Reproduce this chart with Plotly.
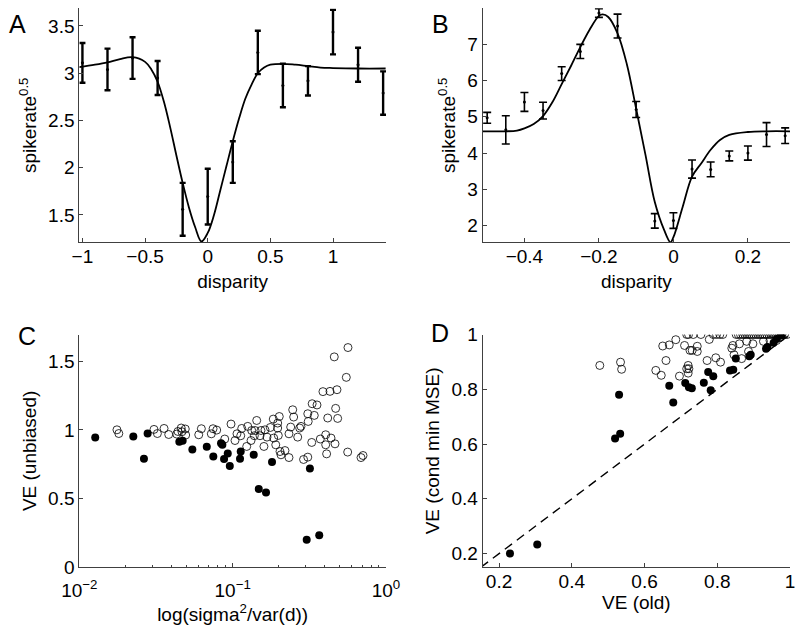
import plotly.graph_objects as go

# ---------------- Panel A data ----------------
a_x = [-1.0, -0.8, -0.6, -0.4, -0.2, 0.0, 0.2, 0.4, 0.6, 0.8, 1.0, 1.2, 1.4]
a_y = [3.11, 3.04, 3.16, 2.95, 1.56, 1.695, 2.06, 3.22, 2.87, 2.92, 3.435, 3.09, 2.79]
a_err = [0.21, 0.22, 0.22, 0.18, 0.28, 0.295, 0.22, 0.23, 0.23, 0.155, 0.235, 0.18, 0.23]
a_fit_x = [-1.025, -0.9, -0.8, -0.7, -0.6, -0.5, -0.45, -0.4, -0.35, -0.3, -0.25, -0.2,
           -0.15, -0.1, -0.05, 0.0, 0.05, 0.1, 0.15, 0.2, 0.25, 0.3, 0.35, 0.4, 0.45,
           0.5, 0.6, 0.7, 0.8, 0.9, 1.0, 1.2, 1.42]
a_fit_y = [3.065, 3.09, 3.115, 3.15, 3.17, 3.12, 3.04, 2.91, 2.70, 2.43, 2.13, 1.84,
           1.58, 1.37, 1.22, 1.31, 1.50, 1.76, 2.02, 2.28, 2.52, 2.73, 2.88, 3.0, 3.06,
           3.09, 3.10, 3.09, 3.075, 3.06, 3.055, 3.05, 3.05]

# ---------------- Panel B data ----------------
b_x = [-0.5, -0.45, -0.4, -0.35, -0.3, -0.25, -0.2, -0.15, -0.1, -0.05, 0.0, 0.05,
       0.1, 0.15, 0.2, 0.25, 0.3]
b_y = [4.97, 4.64, 5.41, 5.17, 6.19, 6.80, 7.86, 7.50, 5.20, 2.13, 2.14, 3.56,
       3.55, 3.92, 4.00, 4.51, 4.48]
b_err = [0.15, 0.39, 0.26, 0.23, 0.19, 0.195, 0.12, 0.33, 0.22, 0.20, 0.215, 0.25,
         0.205, 0.135, 0.195, 0.33, 0.215]
b_fit_x = [-0.512, -0.45, -0.42, -0.4, -0.375, -0.35, -0.325, -0.3, -0.275, -0.25,
           -0.225, -0.2, -0.19, -0.175, -0.15, -0.125, -0.1, -0.075, -0.05, -0.025,
           -0.008, 0.0, 0.025, 0.05, 0.075, 0.1, 0.125, 0.15, 0.2, 0.25, 0.313]
b_fit_y = [4.6, 4.6, 4.62, 4.68, 4.80, 5.02, 5.40, 5.90, 6.40, 6.92,
           7.40, 7.78, 7.82, 7.75, 7.30, 6.45, 5.22, 3.95, 2.65, 1.88,
           1.54, 1.68, 2.52, 3.35, 3.72, 4.09, 4.36, 4.50, 4.58, 4.60, 4.60]

# ---------------- Panel C data ----------------
c_open_x = [0.0176, 0.0181, 0.0307, 0.0323, 0.0357, 0.0383, 0.0432, 0.0440, 0.0462, 0.0467,
            0.0491, 0.0494, 0.0601, 0.0625, 0.0726, 0.0745, 0.0787, 0.0888, 0.0976, 0.1036,
            0.1067, 0.1129, 0.1146, 0.1235, 0.1254, 0.1318, 0.1331, 0.1385, 0.1400, 0.1435,
            0.1508, 0.1530, 0.1600, 0.1625, 0.1675, 0.1760, 0.1840, 0.1853, 0.1910, 0.1967,
            0.1967, 0.1985, 0.2014, 0.2036, 0.2066, 0.2194, 0.2330, 0.2330, 0.2390, 0.2464,
            0.2500, 0.2656, 0.2736, 0.2790, 0.2900, 0.3090, 0.3110, 0.3090, 0.3278, 0.3300,
            0.3406, 0.3548, 0.3730, 0.3880, 0.4043, 0.4043, 0.4100, 0.4169, 0.4314, 0.4380,
            0.4650, 0.4695, 0.4790, 0.4840, 0.4600, 0.5510, 0.5650, 0.5625, 0.6870, 0.7080]
c_open_y = [1.001, 0.974, 1.004, 0.974, 1.011, 0.967, 0.970, 0.989, 1.014, 0.987,
            1.007, 0.963, 0.965, 1.009, 0.972, 1.009, 0.999, 0.934, 1.043, 0.923,
            0.972, 0.958, 1.011, 0.880, 1.026, 0.923, 0.996, 0.958, 0.996, 1.069,
            0.958, 0.996, 0.880, 1.001, 0.948, 1.018, 1.079, 0.941, 0.892, 1.050,
            1.014, 0.960, 1.098, 0.843, 0.819, 0.850, 0.799, 0.972, 1.021, 1.147,
            1.094, 0.948, 1.014, 1.026, 0.785, 0.802, 1.062, 1.118, 0.909, 1.191,
            1.106, 1.182, 0.934, 1.279, 0.965, 0.892, 0.826, 1.087, 1.281, 0.941,
            0.899, 1.157, 1.293, 1.084, 1.532, 1.383, 1.600, 0.839, 0.799, 0.814]
c_fill_x = [0.0127, 0.0225, 0.0264, 0.0279, 0.0449, 0.0472, 0.0546, 0.0678, 0.0748, 0.0840,
            0.0857, 0.0879, 0.0929, 0.0958, 0.1117, 0.1129, 0.1372, 0.1480, 0.1650, 0.1806,
            0.3040, 0.3670, 0.3190]
c_fill_y = [0.945, 0.953, 0.790, 0.975, 0.914, 0.921, 0.858, 0.877, 0.807, 0.904,
            0.892, 0.788, 0.829, 0.737, 0.790, 0.843, 0.819, 0.571, 0.544, 0.766,
            0.201, 0.233, 0.719]

# ---------------- Panel D data ----------------
d_open_x = [0.477, 0.534, 0.537, 0.631, 0.646, 0.659, 0.650, 0.668, 0.686, 0.710,
            0.721, 0.696, 0.716, 0.720, 0.725, 0.716, 0.734, 0.755, 0.789, 0.798,
            0.807, 0.815, 0.852, 0.858, 0.864, 0.870, 0.876, 0.882, 0.888, 0.894,
            0.900, 0.906, 0.912, 0.918, 0.924, 0.930, 0.936, 0.942, 0.948, 0.954,
            0.960, 0.966, 0.972, 0.978, 0.985, 0.992, 0.731, 0.745, 0.745, 0.778,
            0.772, 0.796, 0.809, 0.720, 0.722, 0.840, 0.846, 0.843, 0.861, 0.881,
            0.886, 0.867, 0.898, 0.927, 0.945, 0.963, 0.973]
d_open_y = [0.887, 0.899, 0.873, 0.869, 0.851, 0.905, 0.958, 0.962, 0.981, 0.960,
            1.000, 0.848, 0.875, 0.859, 0.942, 1.000, 1.000, 1.000, 1.000, 1.000,
            1.000, 1.000, 1.000, 1.000, 1.000, 1.000, 1.000, 1.000, 1.000, 1.000,
            1.000, 1.000, 1.000, 1.000, 1.000, 1.000, 1.000, 1.000, 1.000, 1.000,
            1.000, 1.000, 1.000, 1.000, 1.000, 1.000, 0.942, 0.957, 0.938, 0.982,
            0.905, 0.915, 0.899, 0.887, 0.875, 0.950, 0.926, 0.960, 0.966, 0.975,
            0.938, 0.912, 0.966, 0.975, 0.978, 0.978, 0.990]
d_fill_x = [0.230, 0.305, 0.519, 0.533, 0.530, 0.668, 0.679, 0.712, 0.722, 0.730,
            0.763, 0.775, 0.789, 0.782, 0.835, 0.844, 0.851, 0.888, 0.892, 0.934,
            0.938, 0.963, 0.977, 0.955]
d_fill_y = [0.200, 0.233, 0.620, 0.638, 0.780, 0.813, 0.752, 0.823, 0.807, 0.804,
            0.824, 0.863, 0.848, 0.796, 0.869, 0.871, 0.912, 0.921, 0.926, 0.948,
            0.954, 0.984, 0.996, 0.970]
d_ref = [0.15, 1.0]

# ---------------- tick labels ----------------
a_xticks = [-1, -0.5, 0, 0.5, 1]
a_xtext = ["\u22121", "\u22120.5", "0", "0.5", "1"]
a_yticks = [1.5, 2, 2.5, 3, 3.5]
a_ytext = ["1.5", "2", "2.5", "3", "3.5"]
b_xticks = [-0.4, -0.2, 0, 0.2]
b_xtext = ["\u22120.4", "\u22120.2", "0", "0.2"]
b_yticks = [2, 3, 4, 5, 6, 7]
b_ytext = ["2", "3", "4", "5", "6", "7"]
c_xticks = [0.01, 0.1, 1]
c_xtext = ["10<sup>\u22122</sup>", "10<sup>\u22121</sup>", "10<sup>0</sup>"]
c_minor = [0.02, 0.03, 0.04, 0.05, 0.06, 0.07, 0.08, 0.09,
           0.2, 0.3, 0.4, 0.5, 0.6, 0.7, 0.8, 0.9]
c_yticks = [0, 0.5, 1, 1.5]
c_ytext = ["0", "0.5", "1", "1.5"]
d_ticks = [0.2, 0.4, 0.6, 0.8, 1]
d_text = ["0.2", "0.4", "0.6", "0.8", "1"]

W, H = 800, 635
FONT = "Liberation Sans, Arial, sans-serif"
AX = "#404040"


def px_dom(x0, x1):
    return [x0 / W, x1 / W]


def py_dom(y_top, y_bot):
    return [1 - y_bot / H, 1 - y_top / H]


def axis(dom, rng, tv, tt, title, standoff, **kw):
    d = dict(domain=dom, range=rng, tickmode="array", tickvals=tv, ticktext=tt,
             showline=True, linecolor=AX, linewidth=1, ticks="inside", ticklen=4,
             tickcolor=AX, tickwidth=1, showgrid=False, zeroline=False, mirror=False,
             tickfont=dict(size=19, color="black", family=FONT),
             title=dict(text=title, font=dict(size=19, color="black", family=FONT),
                        standoff=standoff),
             automargin=False, fixedrange=True)
    d.update(kw)
    return d


fig = go.Figure()

# Panel A
fig.add_trace(go.Scatter(x=a_fit_x, y=a_fit_y, mode="lines", line=dict(color="black", width=1.8, shape="spline"),
                         xaxis="x", yaxis="y", showlegend=False, hoverinfo="skip"))
fig.add_trace(go.Scatter(x=a_x, y=a_y, mode="markers", marker=dict(color="black", size=3),
                         error_y=dict(type="data", array=a_err, color="black", thickness=2.4, width=3),
                         xaxis="x", yaxis="y", showlegend=False))

# Panel B
fig.add_trace(go.Scatter(x=b_fit_x, y=b_fit_y, mode="lines", line=dict(color="black", width=1.8, shape="spline"),
                         xaxis="x2", yaxis="y2", showlegend=False, hoverinfo="skip"))
fig.add_trace(go.Scatter(x=b_x, y=b_y, mode="markers", marker=dict(color="black", size=3),
                         error_y=dict(type="data", array=b_err, color="black", thickness=1.6, width=4),
                         xaxis="x2", yaxis="y2", showlegend=False))

# Panel C
fig.add_trace(go.Scatter(x=c_open_x, y=c_open_y, mode="markers",
                         marker=dict(symbol="circle-open", color="black", size=8, line=dict(width=0.8)),
                         xaxis="x3", yaxis="y3", showlegend=False))
fig.add_trace(go.Scatter(x=c_fill_x, y=c_fill_y, mode="markers",
                         marker=dict(symbol="circle", color="black", size=8),
                         xaxis="x3", yaxis="y3", showlegend=False))

# Panel D
fig.add_trace(go.Scatter(x=d_ref, y=d_ref, mode="lines", line=dict(color="black", width=1.4, dash="9px,6px"),
                         xaxis="x4", yaxis="y4", showlegend=False, hoverinfo="skip"))
fig.add_trace(go.Scatter(x=d_open_x, y=d_open_y, mode="markers",
                         marker=dict(symbol="circle-open", color="black", size=8, line=dict(width=0.8)),
                         xaxis="x4", yaxis="y4", showlegend=False))
fig.add_trace(go.Scatter(x=d_fill_x, y=d_fill_y, mode="markers",
                         marker=dict(symbol="circle", color="black", size=8),
                         xaxis="x4", yaxis="y4", showlegend=False))

top = py_dom(8.3, 242.3)
bot = py_dom(334.5, 567.3)
left = px_dom(79.3, 386)
right = px_dom(482.7, 790)

fig.update_layout(
    width=W, height=H, margin=dict(l=0, r=0, t=0, b=0),
    paper_bgcolor="white", plot_bgcolor="white",
    font=dict(family=FONT, color="black"),
    xaxis=axis(left, [-1.025, 1.423], a_xticks, a_xtext, "disparity", 8, anchor="y", ticklabelstandoff=-3),
    yaxis=axis(top, [1.211, 3.687], a_yticks, a_ytext, "spikerate<sup>0.5</sup>", 6, anchor="x"),
    xaxis2=axis(right, [-0.512, 0.313], b_xticks, b_xtext, "disparity", 8, anchor="y2", ticklabelstandoff=-3),
    yaxis2=axis(top, [1.54, 7.99], b_yticks, b_ytext, "spikerate<sup>0.5</sup>", 6, anchor="x2"),
    xaxis3=axis(left, [-2, 0], c_xticks, c_xtext, "log(sigma<sup>2</sup>/var(d))", 0, anchor="y3",
                ticklabelstandoff=6,
                type="log", minor=dict(tickmode="array", tickvals=c_minor, ticks="inside", ticklen=2,
                                       tickcolor=AX, showgrid=False)),
    yaxis3=axis(bot, [0, 1.695], c_yticks, c_ytext, "VE (unbiased)", 6, anchor="x3"),
    xaxis4=axis(right, [0.155, 1.0], d_ticks, d_text, "VE (old)", 4, anchor="y4", ticklabelstandoff=-3),
    yaxis4=axis(bot, [0.15, 1.0], d_ticks, d_text, "VE (cond min MSE)", 6, anchor="x4"),
)

for lbl, x, y in [("A", 17, 24), ("B", 440, 24), ("C", 27, 336), ("D", 440, 333)]:
    fig.add_annotation(text=lbl, x=x / W, y=1 - y / H, xref="paper", yref="paper",
                       showarrow=False, xanchor="center", yanchor="middle",
                       font=dict(size=25, color="black", family=FONT))

fig.write_html("out.html", config={"displayModeBar": False},
               post_script="document.body.style.margin='0px';document.body.style.overflow='hidden';")
